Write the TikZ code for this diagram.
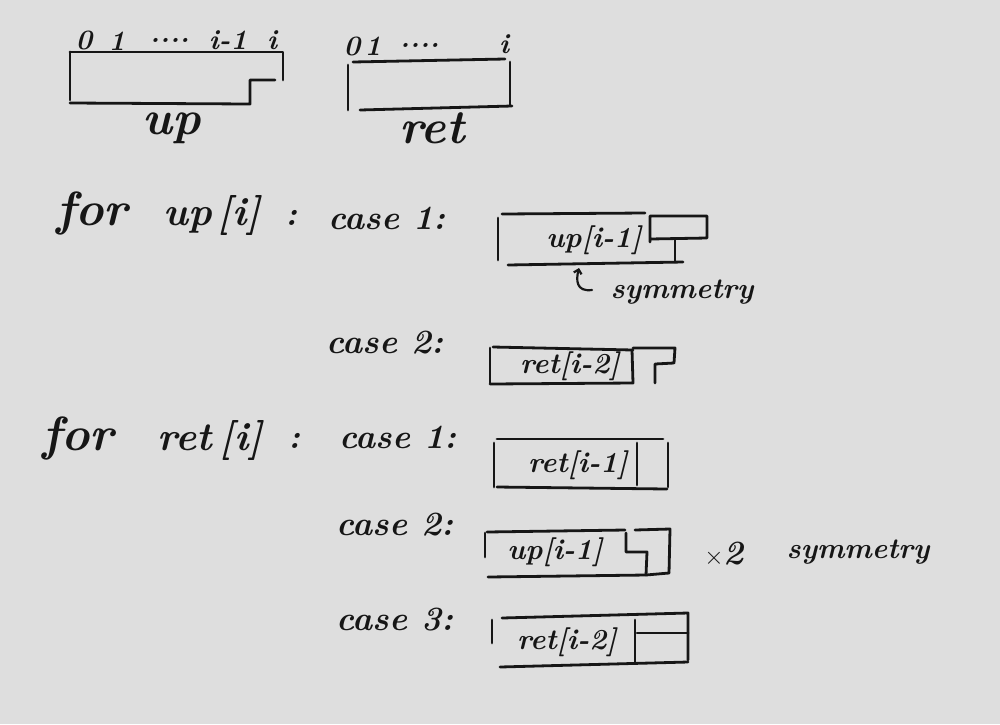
\documentclass[tikz,border=0pt]{standalone}
\usetikzlibrary{arrows.meta}
\definecolor{paper}{HTML}{DEDEDE}
\definecolor{ink}{HTML}{161616}
\begin{document}
\begin{tikzpicture}[x=1pt,y=-1pt,
  ink/.style={draw=ink,line width=2.8pt,line cap=round,line join=round},
  hw/.style={text=ink,font=\fontsize{34}{38}\selectfont\itshape\bfseries,inner sep=0pt},
  hwsym/.style={text=ink,font=\fontsize{29}{33}\selectfont\itshape\bfseries,inner sep=0pt},
  hwbig/.style={text=ink,font=\fontsize{40}{44}\selectfont\itshape\bfseries,inner sep=0pt},
  hwb/.style={text=ink,font=\fontsize{48}{52}\selectfont\itshape\bfseries,inner sep=0pt},
  hws/.style={text=ink,font=\fontsize{28}{32}\selectfont\itshape\bfseries,inner sep=0pt},
  lbl/.style={text=ink,font=\fontsize{29}{33}\selectfont\itshape\bfseries,inner sep=0pt}]
\fill[paper] (0,0) rectangle (1000,724);
\useasboundingbox (0,0) rectangle (1000,724);

% ---------- top: up array ----------
\node[hws] (u0) at (84,40) {0};
\node[hws] (u1) at (117,41) {1};
\node[hws] (ud) at (170,40) {....};
\node[hws] (ui1) at (228,40) {i-1};
\node[hws] (ui) at (272,40) {i};
\draw[ink] (70,52) -- (283,52) -- (283,80);
\draw[ink] (70,52) -- (70,100);
\draw[ink] (70,103) -- (250,104) -- (250,80) -- (275,80);
\node[hwb] (uplbl) at (172,128) {up};

% ---------- top: ret array ----------
\node[hws] (r0) at (352,46) {0};
\node[hws] (r1) at (373,46) {1};
\node[hws] (rd) at (420,45) {....};
\node[hws] (ri) at (504,44) {i};
\draw[ink] (353,62) -- (505,59);
\draw[ink] (510,62) -- (510,105);
\draw[ink] (348,65) -- (348,110);
\draw[ink] (360,110) -- (512,106);
\node[hwb] (retlbl) at (432,128) {ret};

% ---------- for up[i] ----------
\node[hwb] (for1) at (92,213) {for};
\node[hwbig] (upi) at (212,215) {up\hspace{6pt}[i]};
\node[hw] (c1) at (292,218) {:};
\node[hw] (case1a) at (387,218) {case 1:};

% case 1 box
\draw[ink] (498,218) -- (498,260);
\draw[ink] (502,214) -- (645,213);
\draw[ink] (508,265) -- (683,262);
\draw[ink] (650,242) -- (650,216) -- (707,216) -- (707,238) -- (650,239);
\draw[ink] (675,239) -- (675,262);
\node[lbl] (bx1) at (594,240) {up[i-1]};
\draw[ink,line width=2.2pt,-{Straight Barb[length=4pt]}] (592,290) .. controls (576,292) and (576,280) .. (579,268);
\node[hwsym] (sym1) at (682,292) {symmetry};

% case 2
\node[hw] (case2a) at (385,343) {case 2:};
\draw[ink] (490,348) -- (490,383);
\draw[ink] (493,347) -- (633,350);
\draw[ink] (490,384) -- (633,383) -- (632,350);
\draw[ink] (633,348) -- (675,348) -- (674,363) -- (655,364) -- (655,383);
\node[lbl] (bx2) at (570,366) {ret[i-2]};

% ---------- for ret[i] ----------
\node[hwb] (for2) at (78,438) {for};
\node[hwbig] (reti) at (210,440) {ret\hspace{8pt}[i]};
\node[hw] (c2) at (295,441) {:};
\node[hw] (case1b) at (398,437) {case 1:};
\draw[ink] (494,443) -- (494,487);
\draw[ink] (497,439) -- (663,439);
\draw[ink] (497,487) -- (667,489);
\draw[ink] (668,443) -- (668,487);
\draw[ink] (637,443) -- (637,485);
\node[lbl] (bx3) at (578,465) {ret[i-1]};

% case 2
\node[hw] (case2b) at (395,525) {case 2:};
\draw[ink] (485,533) -- (485,557);
\draw[ink] (487,532) -- (625,530);
\draw[ink] (635,530) -- (670,529) -- (669,573);
\draw[ink] (626,533) -- (626,552) -- (647,552) -- (646,575);
\draw[ink] (488,577) -- (646,575) -- (669,573);
\node[lbl] (bx4) at (555,552) {up[i-1]};
\node[hw] (x2) at (724,554) {$\mathbf{\times}$2};
\node[hwsym] (sym2) at (858,552) {symmetry};

% case 3
\node[hw] (case3) at (395,620) {case 3:};
\draw[ink] (492,620) -- (492,643);
\draw[ink] (502,618) -- (688,613) -- (688,660);
\draw[ink] (500,667) -- (688,662);
\draw[ink] (635,620) -- (635,662);
\draw[ink] (637,633) -- (688,633);
\node[lbl] (bx5) at (567,642) {ret[i-2]};
\end{tikzpicture}
\end{document}
